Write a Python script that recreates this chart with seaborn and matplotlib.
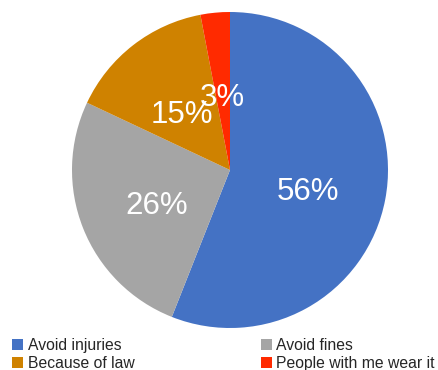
import matplotlib
matplotlib.use("Agg")
import matplotlib.pyplot as plt
import seaborn as sns
from matplotlib.patches import Patch

labels = ["Avoid injuries", "Avoid fines", "Because of law", "People with me wear it"]
values = [56, 26, 15, 3]
colors = ["#4472C4", "#A5A5A5", "#CF8200", "#FF2A00"]

sns.set_theme(style="white")
plt.rcParams['font.family'] = ['Liberation Sans', 'DejaVu Sans']

fig = plt.figure(figsize=(4.39, 3.70), dpi=100)
ax = fig.add_axes([72/439, 42/370, 316/439, 316/370])
wedges, texts, autotexts = ax.pie(values, colors=sns.color_palette(colors), startangle=90, counterclock=False,
                                  autopct=lambda p: f"{p:.0f}%", pctdistance=0.5,
                                  wedgeprops=dict(linewidth=0),
                                  textprops=dict(color="white", fontsize=22.5))
for t in autotexts:
    x, y = t.get_position()
    t.set_position((x, y - 0.044))
ax.set_xlim(-1, 1)
ax.set_ylim(-1, 1)
ax.set_aspect("equal")

order = [0, 2, 1, 3]
handles = [Patch(facecolor=colors[i], edgecolor="none") for i in order]
fig.legend(handles, [labels[i] for i in order], ncol=2, loc="lower left",
           bbox_to_anchor=(-0.005, -0.04), frameon=False, fontsize=11.3,
           handlelength=0.7, handleheight=0.7, handletextpad=0.3,
           columnspacing=8.05, labelspacing=0.2, borderaxespad=0.5)
fig.savefig("out.png", dpi=100)
